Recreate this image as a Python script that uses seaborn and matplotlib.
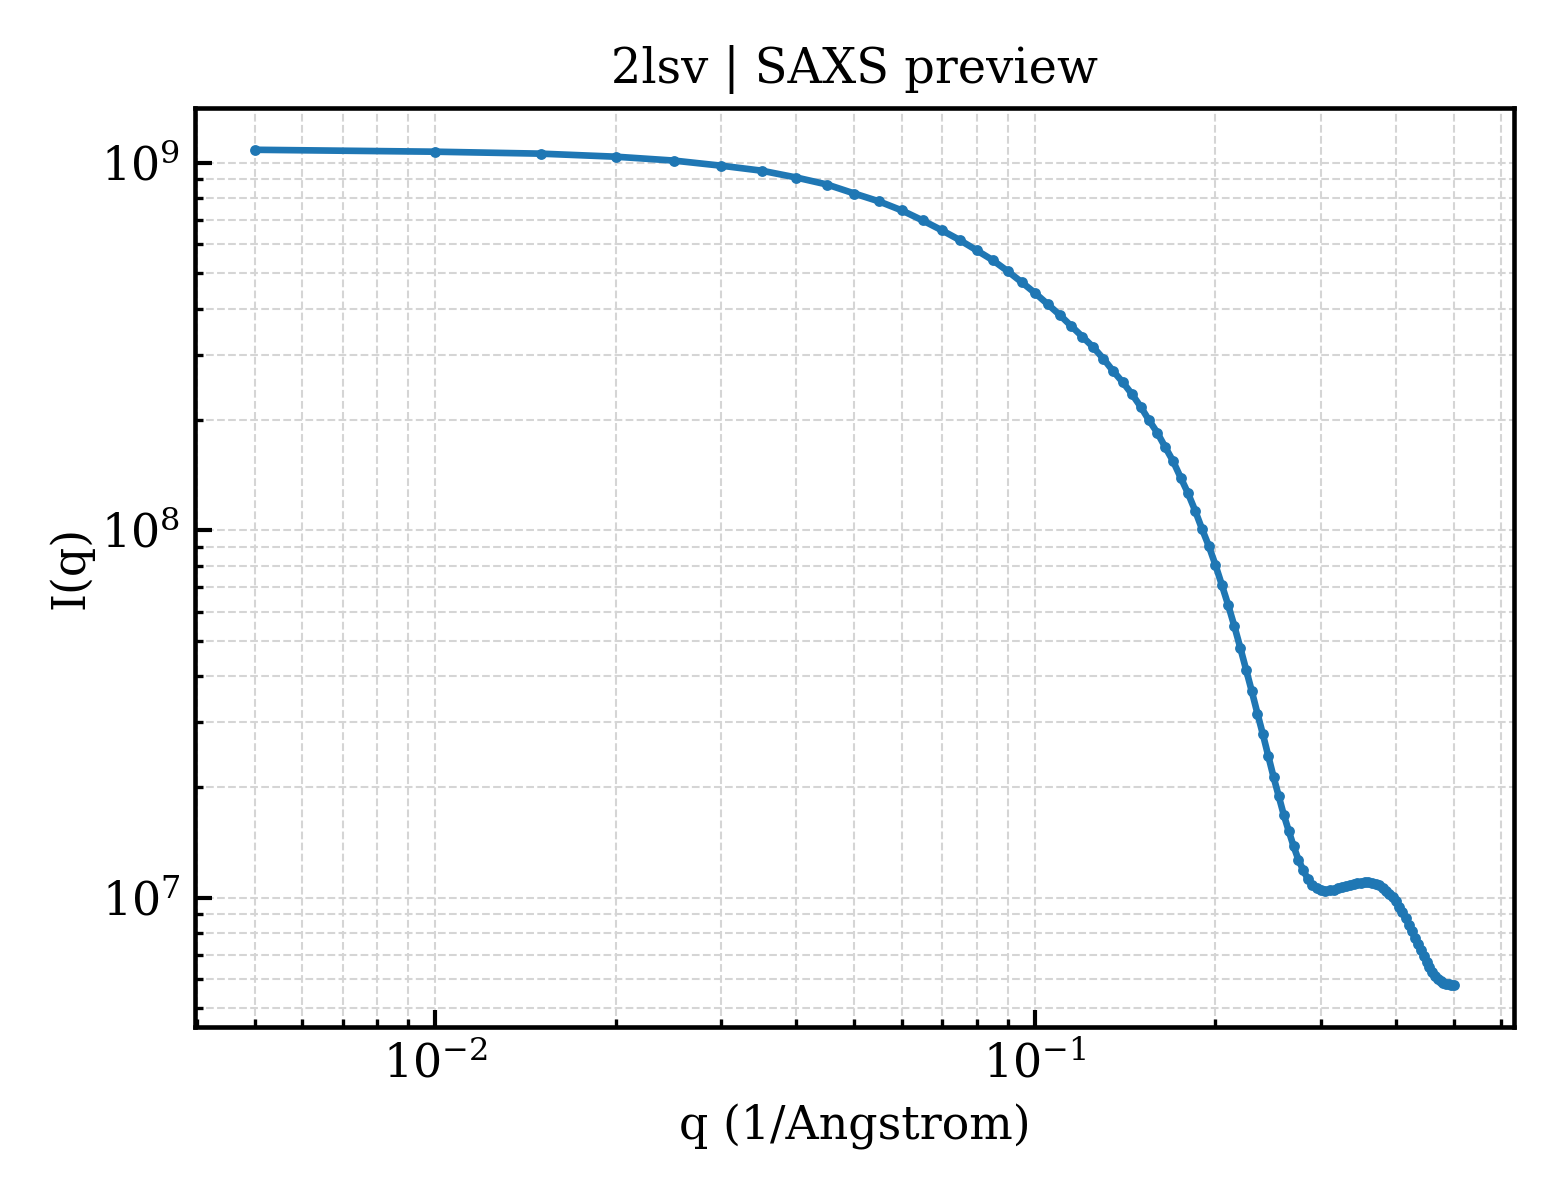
import matplotlib
matplotlib.use("Agg")
import matplotlib.pyplot as plt
import seaborn as sns
import pandas as pd

# ---- data ----
title_text = "2lsv | SAXS preview"
x_label = "q (1/Angstrom)"
y_label = "I(q)"

q_values = [
    0.005, 0.010, 0.015, 0.020, 0.025, 0.030, 0.035, 0.040, 0.045, 0.050,
    0.055, 0.060, 0.065, 0.070, 0.075, 0.080, 0.085, 0.090, 0.095, 0.100,
    0.105, 0.110, 0.115, 0.120, 0.125, 0.130, 0.135, 0.140, 0.145, 0.150,
    0.155, 0.160, 0.165, 0.170, 0.175, 0.180, 0.185, 0.190, 0.195, 0.200,
    0.205, 0.210, 0.215, 0.220, 0.225, 0.230, 0.235, 0.240, 0.245, 0.250,
    0.255, 0.260, 0.265, 0.270, 0.275, 0.280, 0.285, 0.290, 0.295, 0.300,
    0.305, 0.310, 0.315, 0.320, 0.325, 0.330, 0.335, 0.340, 0.345, 0.350,
    0.355, 0.360, 0.365, 0.370, 0.375, 0.380, 0.385, 0.390, 0.395, 0.400,
    0.405, 0.410, 0.415, 0.420, 0.425, 0.430, 0.435, 0.440, 0.445, 0.450,
    0.455, 0.460, 0.465, 0.470, 0.475, 0.480, 0.485, 0.490, 0.495, 0.500,
]

intensity = [
    1.084e9, 1.071e9, 1.058e9, 1.038e9, 1.013e9, 9.81e8, 9.51e8, 9.11e8, 8.72e8, 8.24e8,
    7.84e8, 7.41e8, 6.96e8, 6.54e8, 6.15e8, 5.77e8, 5.43e8, 5.07e8, 4.73e8, 4.42e8,
    4.12e8, 3.85e8, 3.59e8, 3.36e8, 3.15e8, 2.93e8, 2.71e8, 2.53e8, 2.35e8, 2.17e8,
    1.99e8, 1.84e8, 1.68e8, 1.54e8, 1.39e8, 1.26e8, 1.13e8, 1.006e8, 9.05e7, 8.04e7,
    7.09e7, 6.26e7, 5.49e7, 4.79e7, 4.17e7, 3.64e7, 3.17e7, 2.78e7, 2.43e7, 2.13e7,
    1.89e7, 1.68e7, 1.52e7, 1.38e7, 1.27e7, 1.19e7, 1.126e7, 1.084e7, 1.061e7, 1.048e7,
    1.045e7, 1.048e7, 1.051e7, 1.061e7, 1.068e7, 1.075e7, 1.082e7, 1.088e7, 1.095e7, 1.098e7,
    1.102e7, 1.102e7, 1.098e7, 1.092e7, 1.084e7, 1.061e7, 1.045e7, 1.025e7, 1.003e7, 9.77e6,
    9.45e6, 9.13e6, 8.80e6, 8.45e6, 8.11e6, 7.79e6, 7.48e6, 7.21e6, 6.94e6, 6.69e6,
    6.48e6, 6.28e6, 6.13e6, 6.01e6, 5.92e6, 5.87e6, 5.83e6, 5.81e6, 5.79e6, 5.77e6,
]

df = pd.DataFrame({"q": q_values, "I": intensity})

# ---- style ----
sns.set_style("ticks")
plt.rcParams["font.family"] = ["DejaVu Serif"]
plt.rcParams["mathtext.fontset"] = "dejavuserif"
plt.rcParams["text.color"] = "black"
plt.rcParams["axes.labelcolor"] = "black"
plt.rcParams["xtick.color"] = "black"
plt.rcParams["ytick.color"] = "black"

fig, ax = plt.subplots(figsize=(5.2, 4.0), dpi=300)
fig.subplots_adjust(left=0.125, right=0.9705, top=0.91, bottom=0.144)

sns.lineplot(data=df, x="q", y="I", ax=ax, color="#1f77b4", linewidth=1.6,
             marker="o", markersize=2.6, markeredgewidth=0)

ax.set_xscale("log")
ax.set_yscale("log")

ax.grid(True, which="both", linestyle="--", linewidth=0.5, color="#d5d5d5")
ax.set_axisbelow(True)

ax.tick_params(which="both", direction="in", top=False, right=False,
               colors="black", labelcolor="black")
ax.tick_params(which="major", length=4, width=1.0, labelsize=11)
ax.tick_params(which="minor", length=2, width=0.8)
for s in ax.spines.values():
    s.set_linewidth(1.1)
    s.set_color("black")

ax.set_title(title_text, fontsize=11.5, color="black")
ax.set_xlabel(x_label, fontsize=11, color="black")
ax.set_ylabel(y_label, fontsize=11, color="black", labelpad=2)

fig.savefig("out.png", dpi=300)
